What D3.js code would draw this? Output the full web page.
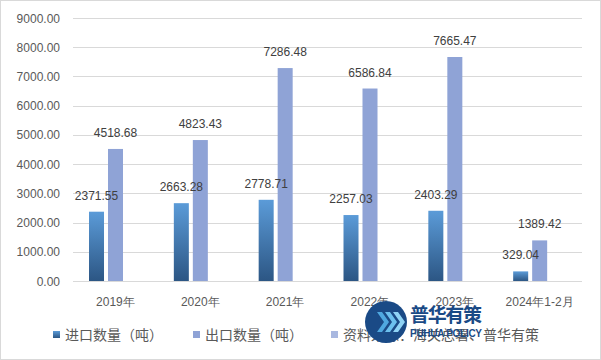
<!DOCTYPE html>
<html>
<head>
<meta charset="utf-8">
<script src="https://cdn.jsdelivr.net/npm/d3@7"></script>
<style>
  body { margin: 0; background: #fff; }
  svg { display: block; font-family: "Liberation Sans", Arial, sans-serif; }
</style>
</head>
<body>
<div id="chart"></div>
<script>
const categories = ["2019年", "2020年", "2021年", "2022年", "2023年", "2024年1-2月"];
const seriesNames = ["进口数量（吨）", "出口数量（吨）", "资料来源：海关总署、普华有策"];
const importValues = [2371.55, 2663.28, 2778.71, 2257.03, 2403.29, 329.04];
const exportValues = [4518.68, 4823.43, 7286.48, 6586.84, 7665.47, 1389.42];
const sourceValues = [0, 0, 0, 0, 0, 0];
const yTicks = [0, 1000, 2000, 3000, 4000, 5000, 6000, 7000, 8000, 9000];

const width = 601, height = 360;
const svg = d3.select("#chart").append("svg")
  .attr("width", width).attr("height", height);

// gradient for import bars
const defs = svg.append("defs");
const grad = defs.append("linearGradient")
  .attr("id", "impGrad").attr("x1", 0).attr("y1", 0).attr("x2", 0).attr("y2", 1);
grad.append("stop").attr("offset", "0%").attr("stop-color", "#5b9bd8");
grad.append("stop").attr("offset", "100%").attr("stop-color", "#2c5684");

// outer border
svg.append("rect").attr("x", 0.5).attr("y", 0.5)
  .attr("width", width - 1).attr("height", height - 1)
  .attr("fill", "none").attr("stroke", "#d9d9d9");

const xScale = d3.scaleBand().domain(categories).range([73, 582]);
const subScale = d3.scaleBand().domain(seriesNames)
  .range([16, 69]).paddingInner(0.21);
const yScale = d3.scaleLinear().domain([0, 9000]).range([281, 18]);

// grid lines
svg.append("g").selectAll("line").data(yTicks).enter().append("line")
  .attr("x1", 73).attr("x2", 582)
  .attr("y1", d => Math.round(yScale(d)) + 0.5)
  .attr("y2", d => Math.round(yScale(d)) + 0.5)
  .attr("stroke", "#d9d9d9");

// y tick labels
svg.append("g").selectAll("text").data(yTicks).enter().append("text")
  .attr("x", 60).attr("y", d => yScale(d) + 4.5)
  .attr("text-anchor", "end").attr("font-size", 12).attr("fill", "#595959")
  .text(d => d.toFixed(2));

// category labels
svg.append("g").selectAll("text").data(categories).enter().append("text")
  .attr("x", d => xScale(d) + xScale.bandwidth() / 2).attr("y", 306)
  .attr("text-anchor", "middle").attr("font-size", 12).attr("fill", "#595959")
  .text(d => d);

const series = [
  { name: seriesNames[0], values: importValues, fill: "url(#impGrad)" },
  { name: seriesNames[1], values: exportValues, fill: "#8fa3d6" },
  { name: seriesNames[2], values: sourceValues, fill: "#a9b8e0" }
];

// bars first
series.slice(0, 2).forEach(s => {
  svg.append("g").selectAll("rect").data(s.values).enter().append("rect")
    .attr("x", (d, i) => xScale(categories[i]) + subScale(s.name))
    .attr("y", d => yScale(d))
    .attr("width", subScale.bandwidth())
    .attr("height", d => yScale(0) - yScale(d))
    .attr("fill", s.fill);
});
// then value labels on top
series.slice(0, 2).forEach(s => {
  svg.append("g").selectAll("text").data(s.values).enter().append("text")
    .attr("x", (d, i) => xScale(categories[i]) + subScale(s.name) + subScale.bandwidth() / 2)
    .attr("y", d => yScale(d) - 12)
    .attr("text-anchor", "middle").attr("font-size", 12).attr("fill", "#404040")
    .text(d => d.toFixed(2));
});

// legend
const legendX = [53, 193, 331];
const legend = svg.append("g");
series.forEach((s, i) => {
  legend.append("rect").attr("x", legendX[i]).attr("y", 331)
    .attr("width", 7).attr("height", 7).attr("fill", s.fill);
  legend.append("text").attr("x", legendX[i] + 12).attr("y", 340)
    .attr("font-size", 14).attr("fill", "#595959")
    .attr("font-family", "'Noto Sans CJK SC', sans-serif")
    .text(s.name);
});

// watermark logo
const logo = svg.append("g").attr("transform", "translate(386,322)");
logo.append("circle").attr("r", 21).attr("fill", "#1a4a86");
[-9, -1, 7].forEach((dx, i) => {
  logo.append("path")
    .attr("d", `M${dx},-10 L${dx + 7},0 L${dx},10 L${dx + 5},10 L${dx + 12},0 L${dx + 5},-10 Z`)
    .attr("fill", ["#4fa8e0", "#6cc0ee", "#8fd3f5"][i]);
});
svg.append("text").attr("x", 410).attr("y", 322)
  .attr("font-size", 19).attr("font-weight", "bold").attr("fill", "#1a4a86")
  .attr("font-family", "'Noto Sans CJK SC', sans-serif")
  .attr("textLength", 72)
  .text("普华有策");
svg.append("text").attr("x", 410).attr("y", 337)
  .attr("font-size", 10).attr("font-weight", "bold").attr("fill", "#1a4a86")
  .attr("textLength", 72)
  .text("PUHUA POLICY");
</script>
</body>
</html>
